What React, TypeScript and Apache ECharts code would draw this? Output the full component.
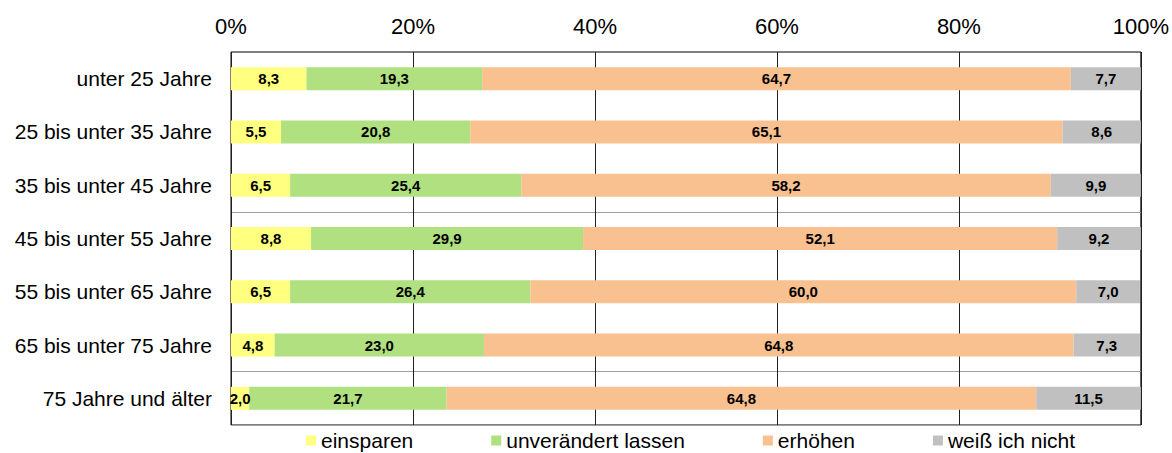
import React, { useEffect, useRef } from "react";
import * as echarts from "echarts";

const categories = [
  "unter 25 Jahre",
  "25 bis unter 35 Jahre",
  "35 bis unter 45 Jahre",
  "45 bis unter 55 Jahre",
  "55 bis unter 65 Jahre",
  "65 bis unter 75 Jahre",
  "75 Jahre und älter",
];
const einsparen = [8.3, 5.5, 6.5, 8.8, 6.5, 4.8, 2.0];
const unveraendert = [19.3, 20.8, 25.4, 29.9, 26.4, 23.0, 21.7];
const erhoehen = [64.7, 65.1, 58.2, 52.1, 60.0, 64.8, 64.8];
const weissNicht = [7.7, 8.6, 9.9, 9.2, 7.0, 7.3, 11.5];
const seriesNames = ["einsparen", "unverändert lassen", "erhöhen", "weiß ich nicht"];
const seriesColors = ["#ffff80", "#b0e080", "#f9c090", "#c0c0c0"];
const xTicks = [0, 20, 40, 60, 80, 100];

const FONT = "'Liberation Sans', Arial, sans-serif";

export default function App() {
  const ref = useRef<HTMLDivElement>(null);
  useEffect(() => {
    if (!ref.current) return;
    const chart = echarts.init(ref.current, undefined, { renderer: "svg" });
    const dataSets = [einsparen, unveraendert, erhoehen, weissNicht];
    chart.setOption({
      animation: false,
      textStyle: { fontFamily: FONT },
      grid: {
        left: 231,
        right: 31,
        top: 52,
        bottom: 28,
        show: true,
        borderColor: "#000",
        borderWidth: 1,
        backgroundColor: "transparent",
      },
      legend: {
        data: seriesNames,
        left: 306,
        top: 430,
        padding: 0,
        itemGap: 78,
        itemWidth: 10,
        itemHeight: 10,
        icon: "rect",
        textStyle: { fontSize: 21, lineHeight: 21, color: "#000", fontFamily: FONT },
      },
      xAxis: {
        type: "value",
        position: "top",
        min: 0,
        max: 100,
        interval: 20,
        axisLine: { show: false },
        axisTick: { show: false },
        axisLabel: {
          margin: 15,
          fontSize: 22,
          color: "#000",
          fontFamily: FONT,
          formatter: (v: number) => (xTicks.includes(v) ? v + "%" : ""),
        },
        splitLine: { show: true, lineStyle: { color: "#202020", width: 1 } },
      },
      yAxis: {
        type: "category",
        inverse: true,
        data: categories,
        axisLine: { show: false },
        axisTick: { show: false },
        axisLabel: { margin: 19, fontSize: 21, color: "#000", fontFamily: FONT },
        splitLine: {
          show: true,
          interval: (index: number) => index === 3 || index === 6,
          lineStyle: { color: "#a0a0a0", width: 1 },
        },
      },
      series: dataSets.map((d, i) => ({
        name: seriesNames[i],
        type: "bar",
        stack: "total",
        barWidth: 23,
        data: d,
        itemStyle: { color: seriesColors[i] },
        label: {
          show: true,
          position: "inside",
          fontSize: 15,
          fontWeight: "bold",
          color: "#000",
          fontFamily: FONT,
          formatter: (p: any) => Number(p.value).toFixed(1).replace(".", ","),
        },
      })),
    });
    return () => chart.dispose();
  }, []);
  return (
    <div
      ref={ref}
      style={{ position: "absolute", left: 0, top: 0, width: 1172, height: 453 }}
    />
  );
}
